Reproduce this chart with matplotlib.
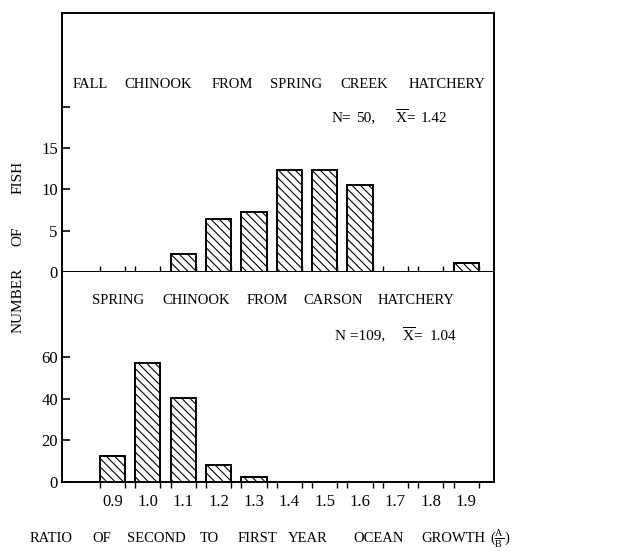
import matplotlib
matplotlib.use("Agg")
import matplotlib.pyplot as plt

plt.rcParams['font.family'] = ['Liberation Serif', 'DejaVu Serif']
plt.rcParams['mathtext.fontset'] = 'custom'
plt.rcParams['mathtext.rm'] = 'Liberation Serif'
plt.rcParams['mathtext.it'] = 'Liberation Serif:italic'
plt.rcParams['mathtext.bf'] = 'Liberation Serif:bold'
plt.rcParams['hatch.linewidth'] = 0.8

bins = [0.9, 1.0, 1.1, 1.2, 1.3, 1.4, 1.5, 1.6, 1.7, 1.8, 1.9]
tick_labels = ["0.9", "1.0", "1.1", "1.2", "1.3", "1.4", "1.5", "1.6", "1.7", "1.8", "1.9"]
fall_counts = [0, 0, 2.2, 6.4, 7.3, 12.3, 12.3, 10.5, 0, 0, 1.1]
spring_counts = [12.4, 57, 40.5, 8.4, 2.4, 0, 0, 0, 0, 0, 0]

fall_title = ["FALL", "CHINOOK", "FROM", "SPRING", "CREEK", "HATCHERY"]
fall_stats = ["N=", "50,", r"$\overline{\rm X}$=", "1.42"]
spring_title = ["SPRING", "CHINOOK", "FROM", "CARSON", "HATCHERY"]
spring_stats = ["N =109,", r"$\overline{\rm X}$=", "1.04"]
ylabel_words = ["NUMBER", "OF", "FISH"]
xlabel_words = ["RATIO", "OF", "SECOND", "TO", "FIRST", "YEAR", "OCEAN",
                r"GROWTH", r"$(\frac{\rm A}{\rm B})$"]

FW, FH = 621, 553
fig = plt.figure(figsize=(FW / 100, FH / 100), dpi=100)
L, W = 0.0998, 0.6957
ax1 = fig.add_axes([L, 0.5081, W, 0.4684])
ax2 = fig.add_axes([L, 0.1284, W, 0.3797])

width = 0.071
edges = []
for b in bins:
    edges += [b - width / 2, b + width / 2]

for ax, counts in ((ax1, fall_counts), (ax2, spring_counts)):
    xs = [b for b, c in zip(bins, counts) if c > 0]
    hs = [c for c in counts if c > 0]
    ax.bar(xs, hs, width=width, facecolor='white', edgecolor='black',
           linewidth=1.4, hatch='\\\\\\\\', zorder=3)
    ax.set_xlim(0.757, 1.979)
    for s in ax.spines.values():
        s.set_linewidth(1.4)
    ax.tick_params(axis='y', direction='in', length=6, width=1.2, labelsize=12, pad=3)

ax1.set_ylim(0, 31.3)
ax1.set_yticks([0, 5, 10, 15, 20])
ax1.set_yticklabels(["0", "5", "10", "15", ""])
ax1.set_xticks(edges)
ax1.tick_params(axis='x', direction='in', length=4, width=1.0, labelbottom=False)

ax2.set_ylim(0, 101)
ax2.set_yticks([0, 20, 40, 60])
ax2.set_yticklabels(["0", "20", "40", "60"])
ax2.set_xticks(bins)
ax2.set_xticklabels(tick_labels)
ax2.set_xticks(edges, minor=True)
ax2.tick_params(axis='x', which='major', length=0, labelsize=12, pad=9)
ax2.tick_params(axis='x', which='minor', direction='out', length=4, width=1.0)
ax2.spines['top'].set_visible(False)


def place(words, xs, y, size):
    for w, x in zip(words, xs):
        fig.text(x / FW, 1 - y / FH, w, fontsize=size, ha='left', va='center')


place(fall_title, [73, 124, 212, 270, 340, 409], 84, 10.5)
place(fall_stats, [332, 356, 395, 421], 118, 11)
place(spring_title, [92, 162, 247, 303, 378], 300, 10.5)
place(spring_stats, [335, 402, 430], 336, 11)
place(xlabel_words, [30, 92, 127, 200, 238, 288, 353, 421, 490], 539, 10.5)

for w, y in zip(ylabel_words, [300, 236, 177]):
    fig.text(18 / FW, 1 - y / FH, w, fontsize=11, rotation=90, ha='center', va='center')

fig.savefig("out.png", dpi=100)
